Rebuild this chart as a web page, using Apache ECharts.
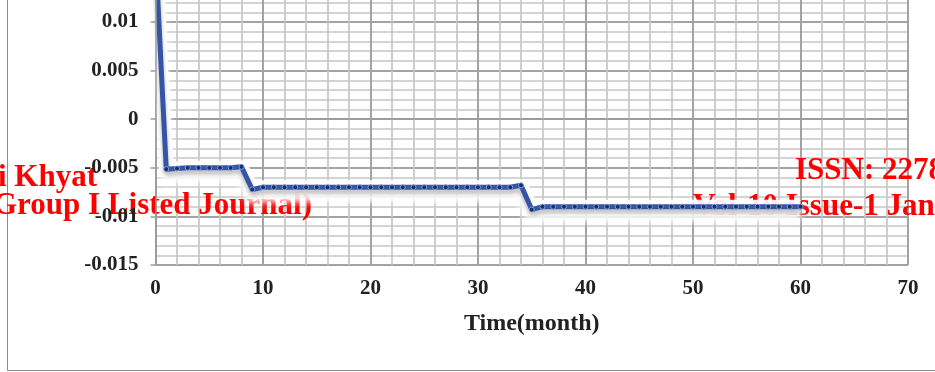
<!DOCTYPE html>
<html>
<head>
<meta charset="utf-8">
<script src="https://cdn.jsdelivr.net/npm/echarts@6/dist/echarts.min.js"></script>
<style>html,body{margin:0;padding:0;background:#fff}#c{width:935px;height:372px}</style>
</head>
<body>
<div id="c"></div>
<script>
// Data
var months = [0,1,2,3,4,5,6,7,8,9,10,11,12,13,14,15,16,17,18,19,20,21,22,23,24,25,26,27,28,29,30,
  31,32,33,34,35,36,37,38,39,40,41,42,43,44,45,46,47,48,49,50,51,52,53,54,55,56,57,58,59,60];
var values = [0.017,-0.00514,-0.00507,-0.0050,-0.0050,-0.0050,-0.0050,-0.0050,-0.0049,-0.00723,
  -0.0070,-0.0070,-0.0070,-0.0070,-0.0070,-0.0070,-0.0070,-0.0070,-0.0070,-0.0070,
  -0.0070,-0.0070,-0.0070,-0.0070,-0.0070,-0.0070,-0.0070,-0.0070,-0.0070,-0.0070,
  -0.0070,-0.0070,-0.0070,-0.0070,-0.0068,-0.0093,
  -0.0090,-0.0090,-0.0090,-0.0090,-0.0090,-0.0090,-0.0090,-0.0090,-0.0090,-0.0090,
  -0.0090,-0.0090,-0.0090,-0.0090,-0.0090,-0.0090,-0.0090,-0.0090,-0.0090,-0.0090,
  -0.0090,-0.0090,-0.0090,-0.0090,-0.0090];
var xTitle = 'Time(month)';
var watermark = ['i Khyat', 'Group I Listed Journal)', 'ISSN: 2278', 'Vol-10 Issue-1 Jan'];

var pts = months.map(function (m, i) { return [m, values[i]]; });
var serif = "'Liberation Serif','Times New Roman',serif";
var labelStyle = { fontFamily: serif, fontWeight: 'bold', fontSize: 21, color: '#222' };
var wmFont = "bold 31px 'Liberation Serif','Times New Roman',serif";
function wm(txt, x, y) {
  return { type: 'text', z: 1, silent: true, x: x, y: y,
    style: { text: txt, font: wmFont, fill: '#ff0000', verticalAlign: 'top', align: 'left' } };
}

var chart = echarts.init(document.getElementById('c'));
chart.setOption({
  animation: false,
  backgroundColor: '#fff',
  grid: { left: 155.5, right: 27, top: -26.6, bottom: 107, containLabel: false, outerBoundsMode: 'none' },
  graphic: {
    z: 1,
    elements: [
      { type: 'rect', z: 0, silent: true, shape: { x: 7.5, y: -5, width: 1000, height: 375.5 },
        style: { fill: 'none', stroke: '#8c8c8c', lineWidth: 1 } },
      wm(watermark[0], -2, 162),
      wm(watermark[1], -7, 190),
      wm(watermark[2], 795, 155),
      wm(watermark[3], 693, 191)
    ]
  },
  xAxis: {
    type: 'value', min: 0, max: 70, interval: 10, z: 0,
    axisLine: { show: true, lineStyle: { color: '#9a9a9a', width: 1.5 } },
    axisTick: { show: false },
    axisLabel: Object.assign({ margin: 13.5 }, labelStyle),
    splitLine: { show: true, lineStyle: { color: '#a3a3a3', width: 2 } },
    minorTick: { show: false, splitNumber: 5 },
    minorSplitLine: { show: true, lineStyle: { color: '#c6c6c6', width: 1.7 } },
    name: xTitle, nameLocation: 'middle', nameGap: 47,
    nameTextStyle: { fontFamily: serif, fontWeight: 'bold', fontSize: 24, color: '#222' }
  },
  yAxis: [
    {
      type: 'value', position: 'left', min: -0.015, max: 0.015, interval: 0.005, z: 0,
      axisLine: { show: false }, axisTick: { show: false }, axisLabel: { show: false },
      splitLine: { show: true, lineStyle: { color: '#a3a3a3', width: 2 } },
      minorTick: { show: false, splitNumber: 5 },
      minorSplitLine: { show: true, lineStyle: { color: '#c6c6c6', width: 1.7 } }
    },
    {
      type: 'value', position: 'left', offset: 0, min: -0.015, max: 0.015, interval: 0.005, z: 20,
      axisLine: { show: true, onZero: false, lineStyle: { color: '#9a9a9a', width: 1.5 } },
      axisTick: { show: true, inside: false, length: 5, lineStyle: { color: '#9a9a9a', width: 1.5 } },
      axisLabel: Object.assign({ margin: 17 }, labelStyle),
      splitLine: { show: false }
    }
  ],
  series: [
    {
      type: 'line', data: pts, z: 10, silent: true, showSymbol: false,
      lineStyle: { color: 'rgba(255,255,255,0.9)', width: 14,
        shadowColor: 'rgba(255,255,255,1)', shadowBlur: 6, shadowOffsetY: 8 }
    },
    {
      type: 'line', data: pts, z: 11,
      symbol: 'circle', symbolSize: 5,
      itemStyle: { color: '#16306e', borderColor: 'rgba(140,165,225,0.9)', borderWidth: 1 },
      lineStyle: { color: '#3454a6', width: 5,
        shadowColor: 'rgba(0,0,0,0.28)', shadowBlur: 4, shadowOffsetY: 4 }
    }
  ]
});
</script>
</body>
</html>
